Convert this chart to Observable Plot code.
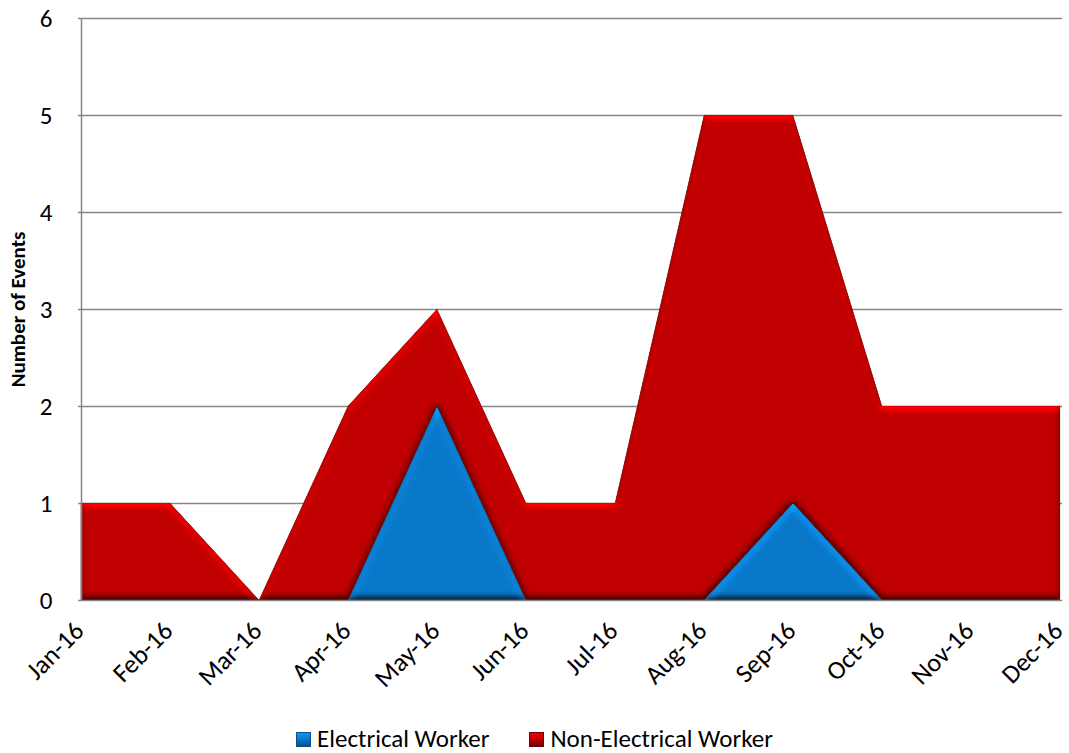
<!DOCTYPE html>
<html>
<head>
<meta charset="utf-8">
<script src="https://cdn.jsdelivr.net/npm/d3@7"></script>
<script src="https://cdn.jsdelivr.net/npm/@observablehq/plot@0.6"></script>
<style>
  body { margin: 0; background: #fff; font-family: Carlito, Lato, "Liberation Sans", sans-serif; }
  #chart { position: relative; width: 1069px; height: 753px; overflow: hidden; }
  .legend { position: absolute; left: 0; top: 726px; width: 1069px; display: flex; justify-content: center; gap: 40px; font-size: 25px; line-height: 26px; color: #000; }
  .legend span { display: inline-flex; align-items: center; }
  .sw { width: 15px; height: 15px; margin-right: 6px; display: inline-block; box-sizing: border-box; }
</style>
</head>
<body>
<div id="chart"></div>
<script>
// Monthly event counts, 2016
const months = ["Jan-16","Feb-16","Mar-16","Apr-16","May-16","Jun-16","Jul-16","Aug-16","Sep-16","Oct-16","Nov-16","Dec-16"];
const seriesNames = ["Electrical Worker", "Non-Electrical Worker"];
const electrical    = [0, 0, 0, 0, 2, 0, 0, 0, 1, 0, 0, 0];
const nonElectrical = [1, 1, 0, 2, 1, 1, 1, 5, 4, 2, 2, 2];
const yTicks = [0, 1, 2, 3, 4, 5, 6];
const colors = ["#0A78C8", "#C00000"];
const edgeColors = ["#0B4F85", "#6E0000"];

const rows = [];
months.forEach((m, i) => {
  rows.push({month: m, series: seriesNames[0], value: electrical[i]});
  rows.push({month: m, series: seriesNames[1], value: nonElectrical[i]});
});

const plot = Plot.plot({
  width: 1069,
  height: 700,
  marginLeft: 78,
  marginRight: 7,
  marginTop: 18,
  marginBottom: 100,
  style: {fontFamily: "Carlito, Lato, 'Liberation Sans', sans-serif", fontSize: "25px", color: "#000", overflow: "visible"},
  x: {type: "point", domain: months, padding: 0},
  y: {domain: [0, 6]},
  color: {domain: seriesNames, range: colors},
  marks: [
    Plot.ruleY(yTicks.filter(d => d > 0), {stroke: "#868686", strokeWidth: 1.5, strokeOpacity: 1}),
    Plot.areaY(rows, {
      x: "month", y: "value", z: "series", fill: "series", fillOpacity: 1,
      stroke: d => d.series === seriesNames[0] ? edgeColors[0] : edgeColors[1],
      strokeWidth: 1, strokeOpacity: 0.5, curve: "linear"
    }),
    Plot.ruleX([months[0]], {y1: 0, y2: 6, stroke: "#868686", strokeWidth: 1.5}),
    Plot.ruleY([0], {stroke: "#868686", strokeWidth: 1.5}),
    Plot.axisY(yTicks, {tickSize: 0, tickPadding: 26, fontSize: 25, tickFormat: "d", label: null}),
    Plot.axisX(months, {tickSize: 0, tickRotate: -45, tickPadding: 26, fontSize: 26, dx: -2, label: null}),
    Plot.text(["Number of Events"], {
      frameAnchor: "left", textAnchor: "middle", dx: -60, rotate: -90, fontWeight: "bold", fontSize: 21
    })
  ]
});

// bevelled edges on the filled areas: diffuse light from above,
// normalised so that flat interiors keep their original colour
const svg = d3.select(plot);
const defs = svg.insert("defs", ":first-child");
const elevation = 50;
const f = defs.append("filter").attr("id", "bevel")
  .attr("x", "-2%").attr("y", "-2%").attr("width", "104%").attr("height", "104%")
  .attr("color-interpolation-filters", "sRGB");
f.append("feGaussianBlur").attr("in", "SourceAlpha").attr("stdDeviation", 3.5).attr("result", "blur");
const dl = f.append("feDiffuseLighting").attr("in", "blur").attr("surfaceScale", 3)
  .attr("diffuseConstant", 1).attr("lighting-color", "#ffffff").attr("result", "light");
dl.append("feDistantLight").attr("azimuth", 270).attr("elevation", elevation);
f.append("feComposite").attr("in", "SourceGraphic").attr("in2", "light").attr("operator", "arithmetic")
  .attr("k1", 1 / Math.sin(elevation * Math.PI / 180)).attr("k2", 0).attr("k3", 0).attr("k4", 0).attr("result", "lit");
f.append("feComposite").attr("in", "lit").attr("in2", "SourceAlpha").attr("operator", "in");
svg.selectAll("g[aria-label='area'] path").attr("filter", "url(#bevel)");

const chart = document.getElementById("chart");
chart.appendChild(plot);

// legend below the plot
const legend = document.createElement("div");
legend.className = "legend";
seriesNames.forEach((name, i) => {
  const item = document.createElement("span");
  const sw = document.createElement("span");
  sw.className = "sw";
  sw.style.background = `linear-gradient(180deg, ${d3.color(colors[i]).brighter(0.6)} 0%, ${colors[i]} 50%, ${edgeColors[i]} 100%)`;
  sw.style.border = `1px solid ${edgeColors[i]}`;
  item.appendChild(sw);
  item.appendChild(document.createTextNode(name));
  legend.appendChild(item);
});
chart.appendChild(legend);
</script>
</body>
</html>
